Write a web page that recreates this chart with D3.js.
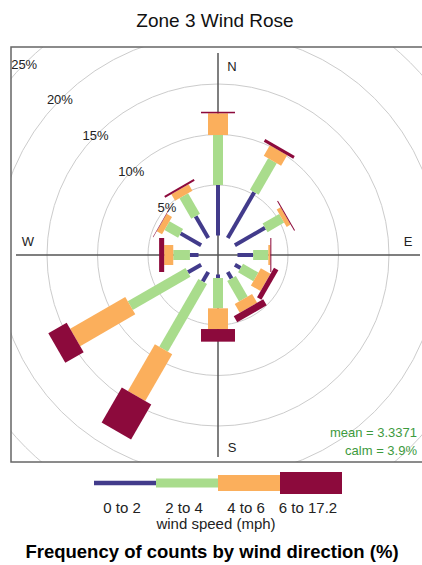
<!DOCTYPE html>
<html>
<head>
<meta charset="utf-8">
<script src="https://cdn.jsdelivr.net/npm/d3@7"></script>
<style>
  html, body { margin: 0; padding: 0; background: #fff; }
  svg { display: block; font-family: "Liberation Sans", Arial, sans-serif; }
</style>
</head>
<body>
<svg id="chart" width="422" height="565"></svg>
<script>
// Wind directions (degrees clockwise from north)
const directions = [0, 30, 60, 90, 120, 150, 180, 210, 240, 270, 300, 330];
// Wind speed intervals (mph)
const speedBins = ["0 to 2", "2 to 4", "4 to 6", "6 to 17.2"];
// Frequency (%) of each speed interval per direction
const freq0to2   = [5.0, 5.25, 3.45, 1.55, 0.65, 0.75, 0.35, 1.1, 1.5, 0.85, 2.35, 2.5];
const freq2to4   = [4.95, 3.6, 1.9, 1.5, 1.75, 2.35, 3.0, 7.75, 6.6, 1.65, 1.55, 2.35];
const freq4to6   = [2.15, 1.2, 0.45, 0.2, 1.1, 1.0, 2.05, 5.35, 6.3, 0.9, 0.6, 0.75];
const freq6to17  = [0.15, 0.3, 0.1, 0.1, 0.5, 0.7, 1.25, 4.0, 2.1, 0.5, 0.05, 0.2];
// Grid rings (%)
const ringTicks = [5, 10, 15, 20, 25];
const compass = [
  { label: "N", angle: 0 }, { label: "E", angle: 90 },
  { label: "S", angle: 180 }, { label: "W", angle: 270 }
];
const meanSpeed = "3.3371";
const calmPct = "3.9%";

const seriesList = [freq0to2, freq2to4, freq4to6, freq6to17];
const colours = ["#423b8b", "#a9dc8c", "#fbaf5c", "#8c0a3c"];
const paddleWidth = [4, 10, 20, 34];

const svg = d3.select("#chart");
const cx = 218, cy = 255;
const panel = { x: 11, y: 47, w: 420, h: 415 };

// radial scale with central hole
const r = d3.scaleLinear().domain([0, 25]).range([19.5, 272]);

// title
svg.append("text").attr("x", 215).attr("y", 27).attr("text-anchor", "middle")
  .attr("font-size", 19).attr("fill", "#111").text("Zone 3 Wind Rose");

svg.append("defs").append("clipPath").attr("id", "panelClip")
  .append("rect").attr("x", panel.x).attr("y", panel.y).attr("width", panel.w).attr("height", panel.h);

const plot = svg.append("g").attr("clip-path", "url(#panelClip)");
const center = plot.append("g").attr("transform", `translate(${cx},${cy})`);

// rings
center.selectAll("circle.ring").data(ringTicks).join("circle")
  .attr("class", "ring").attr("r", d => r(d))
  .attr("fill", "none").attr("stroke", "#cccccc").attr("stroke-width", 1);

// compass axes
const axisLen = 202;
center.append("line").attr("x1", 0).attr("x2", 0).attr("y1", -axisLen).attr("y2", axisLen)
  .attr("stroke", "#555").attr("stroke-width", 1.5);
center.append("line").attr("x1", -axisLen).attr("x2", axisLen).attr("y1", 0).attr("y2", 0)
  .attr("stroke", "#555").attr("stroke-width", 1.5);

// stacked paddles
const segments = [];
directions.forEach((dir, i) => {
  let cum = 0;
  seriesList.forEach((s, k) => {
    const v = s[i];
    segments.push({ dir, k, from: cum, to: cum + v });
    cum += v;
  });
});

center.selectAll("rect.paddle").data(segments).join("rect")
  .attr("class", "paddle")
  .attr("transform", d => `rotate(${d.dir})`)
  .attr("x", d => -paddleWidth[d.k] / 2)
  .attr("width", d => paddleWidth[d.k])
  .attr("y", d => -r(d.to))
  .attr("height", d => r(d.to) - r(d.from))
  .attr("fill", d => colours[d.k]);

// ring labels along the north-west diagonal
const diag = Math.PI / 4;
center.selectAll("text.ringlab").data(ringTicks).join("text")
  .attr("class", "ringlab")
  .attr("x", d => -r(d) * Math.cos(diag) - 1.5)
  .attr("y", d => -r(d) * Math.sin(diag) + 6)
  .attr("text-anchor", "middle").attr("font-size", 13).attr("fill", "#222")
  .text(d => d + "%");

// compass labels
const labPos = {
  N: [14, -184], S: [14, 197], E: [190, -9], W: [-190, -9]
};
center.selectAll("text.compass").data(compass).join("text")
  .attr("class", "compass")
  .attr("x", d => labPos[d.label][0]).attr("y", d => labPos[d.label][1])
  .attr("text-anchor", "middle").attr("font-size", 13).attr("fill", "#222")
  .text(d => d.label);

// mean / calm annotation
svg.append("text").attr("x", 417).attr("y", 437).attr("text-anchor", "end")
  .attr("font-size", 13).attr("fill", "#3d9a3d").text("mean = " + meanSpeed);
svg.append("text").attr("x", 417).attr("y", 455).attr("text-anchor", "end")
  .attr("font-size", 13).attr("fill", "#3d9a3d").text("calm = " + calmPct);

// panel border
svg.append("rect").attr("x", panel.x).attr("y", panel.y).attr("width", panel.w).attr("height", panel.h)
  .attr("fill", "none").attr("stroke", "#666").attr("stroke-width", 1.5);

// legend
const legX = d3.scaleBand().domain(speedBins).range([94, 342]);
const legY = 483;
const legendHeights = [4.5, 9, 16, 22];
const leg = svg.append("g");
leg.selectAll("rect").data(speedBins).join("rect")
  .attr("x", d => legX(d)).attr("width", legX.bandwidth())
  .attr("y", (d, i) => legY - legendHeights[i] / 2)
  .attr("height", (d, i) => legendHeights[i])
  .attr("fill", (d, i) => colours[i]);
leg.selectAll("text").data(speedBins).join("text")
  .attr("x", d => legX(d) + legX.bandwidth() / 2 - 3).attr("y", 513)
  .attr("text-anchor", "middle").attr("font-size", 15).attr("fill", "#222")
  .text(d => d);
svg.append("text").attr("x", 216).attr("y", 529).attr("text-anchor", "middle")
  .attr("font-size", 15).attr("fill", "#222").text("wind speed (mph)");

svg.append("text").attr("x", 212).attr("y", 558).attr("text-anchor", "middle")
  .attr("font-size", 18.5).attr("font-weight", "bold").attr("fill", "#000")
  .text("Frequency of counts by wind direction (%)");
</script>
</body>
</html>
